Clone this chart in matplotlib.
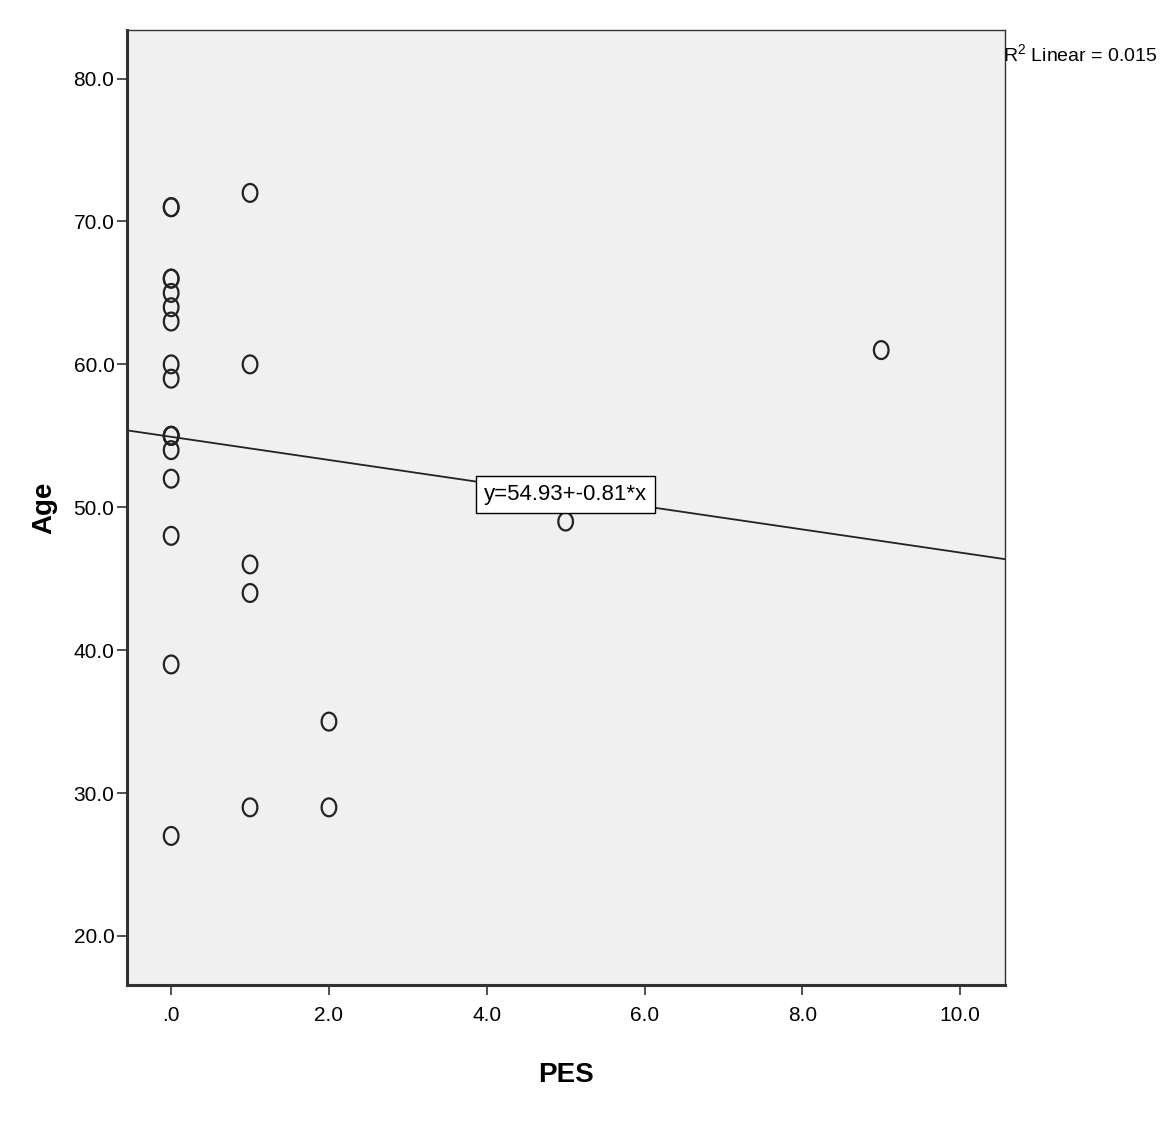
import matplotlib
matplotlib.use("Agg")
import matplotlib.pyplot as plt
from matplotlib.path import Path
import numpy as np

pes = [0, 0, 0, 0, 0, 0, 0, 0, 0, 0, 0, 0, 0, 0, 0, 0, 0,
       1, 1, 1, 1, 1, 2, 2, 5, 9]
age = [71, 71, 66, 66, 65, 64, 63, 60, 59, 55, 55, 55, 54, 52, 48, 39, 27,
       72, 60, 46, 44, 29, 35, 29, 49, 61]
intercept = 54.93
slope = -0.81
r2_text = "R$^2$ Linear = 0.015"
xticks = [0, 2, 4, 6, 8, 10]
xtick_labels = [".0", "2.0", "4.0", "6.0", "8.0", "10.0"]
yticks = [20, 30, 40, 50, 60, 70, 80]
ytick_labels = ["20.0", "30.0", "40.0", "50.0", "60.0", "70.0", "80.0"]

plt.rcParams['font.family'] = ['Liberation Sans', 'DejaVu Sans']
plt.rcParams['mathtext.fontset'] = 'custom'
plt.rcParams['mathtext.rm'] = 'Liberation Sans'

fig = plt.figure(figsize=(11.66, 11.24), dpi=100)
ax = fig.add_axes([0.1089, 0.1237, 0.862 - 0.1089, 0.9733 - 0.1237])
ax.set_facecolor('#F0F0F0')

# slightly tall ellipse marker
t = np.linspace(0, 2 * np.pi, 60)
ellipse = Path(np.column_stack([0.82 * np.cos(t), np.sin(t)]), closed=True)

ax.scatter(pes, age, s=165, marker=ellipse, facecolors='none', edgecolors='#222222',
           linewidths=1.6, zorder=3)

xlim = (-0.56, 10.57)
ax.set_xlim(*xlim)
ax.set_ylim(16.57, 83.4)
xs = np.array(xlim)
ax.plot(xs, intercept + slope * xs, color='#222222', lw=1.3, zorder=2)

ax.text(5.0, intercept + slope * 5.0, "y=54.93+-0.81*x", ha='center', va='center',
        fontsize=16, zorder=4,
        bbox=dict(boxstyle='square,pad=0.35', facecolor='white', edgecolor='black', lw=1))

ax.set_xticks(xticks)
ax.set_xticklabels(xtick_labels)
ax.set_yticks(yticks)
ax.set_yticklabels(ytick_labels)
ax.tick_params(axis='both', labelsize=15, length=7, width=1.2, color='#333333', direction='out')
ax.tick_params(axis='x', pad=8)
ax.tick_params(axis='y', pad=2)

for side in ['top', 'right']:
    ax.spines[side].set_linewidth(1.0)
    ax.spines[side].set_color('#333333')
for side in ['left', 'bottom']:
    ax.spines[side].set_linewidth(2.2)
    ax.spines[side].set_color('#333333')

ax.set_xlabel("PES", fontsize=20, fontweight='bold', labelpad=27)
ax.set_ylabel("Age", fontsize=20, fontweight='bold', labelpad=12)

fig.text(1003 / 1166, 1 - 55 / 1124, r2_text, ha='left', va='center', fontsize=14)

fig.savefig("out.png", dpi=100, facecolor='white')
